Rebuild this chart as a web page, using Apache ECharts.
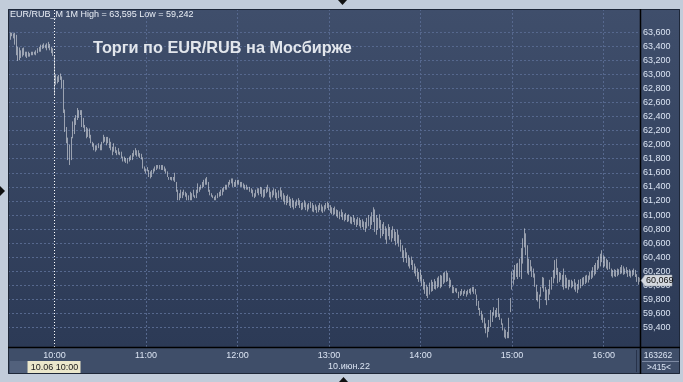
<!DOCTYPE html>
<html><head><meta charset="utf-8">
<script src="https://cdn.jsdelivr.net/npm/echarts@6/dist/echarts.min.js"></script>
<style>html,body{margin:0;padding:0;background:#c2ccda;overflow:hidden}#c{width:683px;height:382px}</style>
</head><body><div id="c"></div>
<script>
// 1-minute bars of EUR/RUB, 09:30 .. 16:24 (415 bars): highs and lows
const highs = [
63.59,63.595,63.59,63.58,63.59,63.56,63.39,63.38,63.34,63.37,
63.38,63.32,63.32,63.32,63.30,63.32,63.32,63.32,63.34,63.37,
63.39,63.42,63.42,63.44,63.42,63.44,63.46,63.43,63.39,63.37,
63.26,63.00,62.97,62.99,63.01,62.97,62.92,62.50,62.25,62.10,
62.00,62.11,62.33,62.38,62.42,62.52,62.49,62.49,62.49,62.38,
62.28,62.25,62.23,62.23,62.14,62.04,62.02,61.99,61.99,62.02,
62.00,62.04,62.14,62.11,62.11,62.11,62.09,62.04,61.97,62.02,
61.97,61.92,61.95,61.90,61.90,61.83,61.83,61.81,61.81,61.83,
61.85,61.88,61.92,61.95,61.92,61.92,61.88,61.87,61.82,61.69,
61.66,61.68,61.64,61.62,61.64,61.66,61.69,61.71,61.71,61.71,
61.71,61.71,61.69,61.66,61.62,61.54,61.54,61.54,61.54,61.60,
61.47,61.36,61.31,61.36,61.33,61.36,61.33,61.31,61.28,61.33,
61.31,61.36,61.28,61.36,61.45,61.40,61.43,61.47,61.50,61.52,
61.54,61.47,61.36,61.31,61.28,61.26,61.28,61.31,61.33,61.36,
61.38,61.40,61.43,61.43,61.47,61.50,61.52,61.52,61.47,61.50,
61.50,61.50,61.47,61.47,61.45,61.43,61.43,61.40,61.40,61.38,
61.36,61.31,61.36,61.38,61.38,61.40,61.39,61.36,61.37,61.40,
61.43,61.38,61.33,61.35,61.38,61.37,61.32,61.35,61.39,61.35,
61.31,61.28,61.27,61.29,61.26,61.23,61.24,61.21,61.19,61.22,
61.24,61.21,61.17,61.18,61.21,61.18,61.15,61.17,61.19,61.17,
61.14,61.15,61.12,61.14,61.17,61.15,61.12,61.14,61.17,61.19,
61.17,61.14,61.11,61.10,61.12,61.08,61.07,61.05,61.08,61.04,
61.01,61.03,61.00,61.01,60.98,60.97,61.00,60.96,60.94,60.97,
60.96,60.93,60.94,60.91,60.90,60.96,61.00,60.98,61.04,61.11,
61.08,61.00,60.96,61.01,60.93,60.87,60.90,60.84,60.81,60.87,
60.83,60.79,60.84,60.80,60.76,60.79,60.72,60.65,60.57,60.50,
60.53,60.47,60.43,60.39,60.41,60.36,60.31,60.27,60.24,60.19,
60.22,60.15,60.09,60.05,60.01,59.98,60.04,60.08,60.05,60.09,
60.06,60.11,60.13,60.15,60.14,60.18,60.19,60.21,60.18,60.11,
60.08,60.00,59.98,59.96,59.96,59.91,59.92,59.95,59.92,59.94,
59.92,59.94,59.95,59.96,59.98,59.98,59.95,59.87,59.78,59.68,
59.64,59.59,59.54,59.46,59.41,59.51,59.65,59.62,59.69,59.65,
59.68,59.82,59.60,59.53,59.46,59.39,59.37,59.34,59.54,59.82,
60.20,60.22,60.29,60.31,60.32,60.38,60.53,60.67,60.81,60.74,
60.57,60.38,60.36,60.27,60.24,60.17,60.01,59.91,59.87,59.98,
60.12,60.11,59.98,59.94,59.95,60.08,60.12,60.22,60.36,60.38,
60.25,60.19,60.18,60.15,60.24,60.15,60.11,60.08,60.08,60.08,
60.06,60.09,60.04,60.02,60.08,60.09,60.11,60.12,60.14,60.15,
60.14,60.19,60.21,60.26,60.29,60.32,60.36,60.41,60.45,60.50,
60.43,60.41,60.38,60.36,60.33,60.24,60.22,60.23,60.22,60.24,
60.23,60.26,60.29,60.27,60.24,60.26,60.22,60.23,60.21,60.22,
60.24,60.22,60.16,60.12,60.11
];
const lows = [
63.43,63.49,63.54,63.51,63.42,63.27,63.19,63.20,63.23,63.25,
63.27,63.25,63.23,63.25,63.25,63.27,63.27,63.28,63.27,63.30,
63.32,63.32,63.36,63.37,63.37,63.34,63.37,63.34,63.30,63.26,
62.70,62.85,62.87,62.89,62.92,62.80,62.45,62.18,62.02,61.78,
61.71,61.78,62.09,62.15,62.28,62.35,62.38,62.42,62.25,62.24,
62.18,62.09,62.11,62.09,62.02,61.97,61.92,61.90,61.92,61.95,
61.92,61.92,62.02,62.04,61.99,62.02,61.95,61.92,61.85,61.90,
61.88,61.85,61.86,61.85,61.81,61.76,61.76,61.74,61.73,61.76,
61.78,61.78,61.83,61.85,61.83,61.83,61.81,61.79,61.66,61.62,
61.59,61.62,61.54,61.52,61.54,61.59,61.62,61.64,61.66,61.65,
61.64,61.64,61.62,61.59,61.54,61.50,61.50,61.49,61.49,61.47,
61.33,61.21,61.21,61.24,61.24,61.28,61.26,61.21,61.21,61.21,
61.21,61.26,61.24,61.24,61.31,61.33,61.36,61.38,61.40,61.43,
61.43,61.33,61.28,61.26,61.24,61.21,61.21,61.24,61.26,61.27,
61.28,61.33,61.36,61.36,61.40,61.43,61.45,61.40,61.40,61.40,
61.43,61.43,61.40,61.40,61.38,61.36,61.36,61.36,61.33,61.31,
61.26,61.24,61.26,61.31,61.28,61.30,61.26,61.24,61.26,61.31,
61.33,61.25,61.22,61.25,61.28,61.24,61.21,61.24,61.26,61.22,
61.19,61.15,61.14,61.17,61.13,61.10,61.11,61.08,61.10,61.13,
61.14,61.10,61.07,61.08,61.11,61.07,61.05,61.08,61.10,61.05,
61.04,61.07,61.03,61.04,61.07,61.05,61.03,61.05,61.08,61.10,
61.07,61.03,61.01,61.00,61.01,60.98,60.96,60.94,60.97,60.93,
60.91,60.93,60.90,60.91,60.88,60.87,60.90,60.86,60.83,60.86,
60.84,60.81,60.83,60.79,60.76,60.81,60.84,60.80,60.86,60.90,
60.76,60.72,60.79,60.81,60.67,60.70,60.73,60.65,60.59,60.70,
60.65,60.62,60.67,60.63,60.57,60.60,60.55,60.48,60.39,60.33,
60.39,60.32,60.27,60.24,60.29,60.22,60.17,60.13,60.09,60.05,
60.06,59.99,59.94,59.88,59.85,59.82,59.87,59.91,59.92,59.95,
59.94,59.96,59.98,59.96,59.98,60.02,60.04,60.05,60.06,59.96,
59.98,59.89,59.89,59.91,59.89,59.82,59.85,59.87,59.85,59.88,
59.84,59.87,59.89,59.87,59.91,59.88,59.87,59.71,59.65,59.57,
59.51,59.47,59.39,59.32,59.26,59.34,59.41,59.48,59.57,59.54,
59.55,59.55,59.51,59.44,59.36,59.26,59.242,59.25,59.25,59.62,
59.94,60.01,60.08,60.12,60.09,60.12,60.09,60.31,60.54,60.43,
60.17,60.15,60.20,60.12,60.11,59.98,59.79,59.77,59.67,59.84,
59.96,59.91,59.79,59.72,59.79,59.87,59.94,60.03,60.10,60.15,
60.03,60.05,60.08,59.98,59.94,59.96,59.96,59.94,59.98,59.96,
59.98,59.94,59.91,59.89,59.94,59.96,59.99,60.01,60.02,60.04,
60.04,60.08,60.09,60.11,60.14,60.16,60.22,60.24,60.27,60.33,
60.25,60.27,60.24,60.22,60.23,60.13,60.11,60.13,60.12,60.13,
60.15,60.16,60.17,60.15,60.16,60.17,60.12,60.13,60.11,60.13,
60.15,60.12,60.05,60.01,60.05
];
const lastPrice = 60.069;
const yTicks = [59.4,59.6,59.8,60.0,60.2,60.4,60.6,60.8,61.0,61.2,61.4,61.6,61.8,62.0,62.2,62.4,62.6,62.8,63.0,63.2,63.4,63.6];
const xTickLabels = ['10:00','11:00','12:00','13:00','14:00','15:00','16:00'];
const startMinute = 9 * 60 + 30;
const dateLabel = '10.июн.22';
const crossLabel = '10.06 10:00';
const crossCategory = '10:00';
const countLabel = '163262';
const barsLabel = '>415<';
const headline = 'Торги по EUR/RUB на Мосбирже';

const pad = n => String(n).padStart(2, '0');
const categories = highs.map((_, i) => { const m = startMinute + i; return pad(Math.floor(m / 60)) + ':' + pad(m % 60); });
const fmt = v => v.toFixed(3).replace('.', ',');
const FONT = 'Liberation Sans';
const LBL = '#dbe4f3';
const GRIDC = '#56688e';

const chart = echarts.init(document.getElementById('c'), null, {renderer: 'canvas'});
const isHour = (i, v) => xTickLabels.indexOf(v) >= 0;

chart.setOption({
  animation: false,
  backgroundColor: '#c2ccda',
  grid: {left: 8, right: 42, top: 9, bottom: 35, containLabel: false, outerBoundsMode: 'none'},
  xAxis: {
    type: 'category', data: categories, boundaryGap: true,
    axisLine: {show: false}, axisTick: {show: false},
    axisLabel: {interval: isHour, color: LBL, fontSize: 9, fontFamily: FONT, margin: 4},
    splitLine: {show: false}
  },
  yAxis: {
    type: 'value', position: 'right', min: 59.125, max: 63.927, scale: true,
    axisLine: {show: false},
    axisTick: {show: false, customValues: yTicks},
    axisLabel: {customValues: yTicks, formatter: fmt, color: LBL, fontSize: 9, fontFamily: FONT, margin: 2, align: 'left'},
    splitLine: {show: true, lineStyle: {color: GRIDC, type: [2, 2], width: 1}}
  },
  series: [{
    type: 'candlestick',
    data: highs.map((h, i) => [lows[i], h, lows[i], h]),
    barWidth: 1.3,
    itemStyle: {color: '#ffffff', color0: '#ffffff', borderColor: '#ffffff', borderColor0: '#ffffff', borderWidth: 0.5},
    markLine: {
      silent: true, symbol: ['none', 'none'], label: {show: false},
      lineStyle: {color: GRIDC, type: [2, 2], width: 1},
      data: xTickLabels.filter(t => t !== crossCategory).map(t => ({xAxis: t})).concat([
        {xAxis: crossCategory, lineStyle: {color: '#ffffff', type: [1, 2], width: 1}}
      ])
    },
    z: 5
  }]
});

const yLast = chart.convertToPixel({yAxisIndex: 0}, lastPrice);
const xCross = chart.convertToPixel({xAxisIndex: 0}, crossCategory);
const hi = Math.max(...highs), lo = Math.min(...lows);

chart.setOption({
  graphic: [
    {type: 'rect', z: -10, silent: true, shape: {x: 8, y: 9, width: 672, height: 338},
      style: {fill: {type: 'linear', x: 0, y: 0, x2: 0, y2: 1, colorStops: [{offset: 0, color: '#3f4e6b'}, {offset: 1, color: '#2c3a56'}]}}},
    {type: 'rect', z: -10, silent: true, shape: {x: 8, y: 347, width: 672, height: 27}, style: {fill: '#3f4e69'}},
    {type: 'rect', z: 1, silent: true, shape: {x: 10, y: 361, width: 18, height: 13}, style: {fill: '#52617c'}},
    {type: 'rect', z: 10, silent: true, shape: {x: 8.5, y: 9.5, width: 671, height: 364}, style: {fill: null, stroke: '#1e2738', lineWidth: 1}},
    {type: 'line', z: 10, silent: true, shape: {x1: 8, y1: 347.5, x2: 680, y2: 347.5}, style: {stroke: '#000', lineWidth: 1.5}},
    {type: 'line', z: 10, silent: true, shape: {x1: 640.5, y1: 9, x2: 640.5, y2: 374}, style: {stroke: '#000', lineWidth: 1.5}},
    {type: 'line', z: 10, silent: true, shape: {x1: 636.5, y1: 350, x2: 636.5, y2: 372}, style: {stroke: '#27324a', lineWidth: 1}},
    {type: 'line', z: 10, silent: true, shape: {x1: 642, y1: 361.5, x2: 679, y2: 361.5}, style: {stroke: '#7d8aa3', lineWidth: 1}},
    {type: 'text', z: 10, silent: true, x: 10, y: 15, style: {text: 'EUR/RUB_M 1M High = ' + fmt(hi) + ' Low = ' + fmt(lo), fill: '#e8edf5', font: '9px "' + FONT + '"', textVerticalAlign: 'middle'}},
    {type: 'text', z: 10, silent: true, x: 93, y: 49, style: {text: headline, fill: '#e2e6ec', font: 'bold 16.3px "' + FONT + '"', textVerticalAlign: 'middle'}},
    {type: 'rect', z: 10, silent: true, shape: {x: xCross - 27, y: 361, width: 53, height: 12}, style: {fill: '#ebe7cb'}},
    {type: 'text', z: 11, silent: true, x: xCross, y: 367.5, style: {text: crossLabel, fill: '#1a1a1a', font: '9px "' + FONT + '"', textAlign: 'center', textVerticalAlign: 'middle'}},
    {type: 'text', z: 10, silent: true, x: 349, y: 367, style: {text: dateLabel, fill: LBL, font: '9px "' + FONT + '"', textAlign: 'center', textVerticalAlign: 'middle'}},
    {type: 'text', z: 10, silent: true, x: 658, y: 356, style: {text: countLabel, fill: LBL, font: '8.5px "' + FONT + '"', textAlign: 'center', textVerticalAlign: 'middle'}},
    {type: 'text', z: 10, silent: true, x: 659, y: 367.5, style: {text: barsLabel, fill: LBL, font: '8.5px "' + FONT + '"', textAlign: 'center', textVerticalAlign: 'middle'}},
    {type: 'polygon', z: 12, silent: true, shape: {points: [[641, yLast], [645, yLast - 5.5], [672, yLast - 5.5], [672, yLast + 5.5], [645, yLast + 5.5]]}, style: {fill: '#d3d7de', stroke: '#9aa0aa', lineWidth: 0.5}},
    {type: 'text', z: 13, silent: true, x: 646, y: yLast, style: {text: fmt(lastPrice), fill: '#111', font: '9px "' + FONT + '"', textVerticalAlign: 'middle'}},
    {type: 'polygon', z: 10, silent: true, shape: {points: [[338, 0], [347, 0], [342.5, 5]]}, style: {fill: '#111'}},
    {type: 'polygon', z: 10, silent: true, shape: {points: [[339, 382], [348, 382], [343.5, 377]]}, style: {fill: '#111'}},
    {type: 'polygon', z: 10, silent: true, shape: {points: [[0, 186], [0, 196], [5, 191]]}, style: {fill: '#111'}}
  ]
});
</script></body></html>
